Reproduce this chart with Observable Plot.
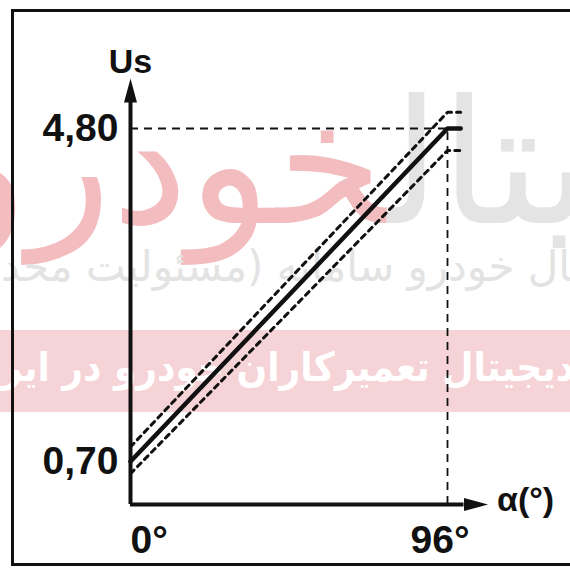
<!DOCTYPE html>
<html>
<head>
<meta charset="utf-8">
<script src="https://cdn.jsdelivr.net/npm/d3@7"></script>
<script src="https://cdn.jsdelivr.net/npm/@observablehq/plot@0.6"></script>
<style>
  html, body { margin: 0; padding: 0; background: #fff; }
  #wrap { position: relative; width: 570px; height: 569px; overflow: hidden; background: #fff; }
  .wm { position: absolute; white-space: nowrap; direction: rtl; font-family: "DejaVu Sans", sans-serif; }
  #wm-big { top: 78px; right: -262px; font-size: 172px; line-height: 1; color: #e4e4e4; }
  #wm-big span { color: #f3bdc0; }
  #wm-line { top: 242px; right: -84px; font-size: 42px; line-height: 1.2; color: #e3e3e3; }
  #wm-band { top: 330px; left: 0; width: 570px; height: 82px; background: #f6d3d6; }
  #wm-band-text { top: 343px; right: -112px; font-size: 40px; line-height: 1.2; color: #fff; font-weight: bold; font-family: "DejaVu Sans Condensed", "DejaVu Sans", sans-serif; }
  #frame { position: absolute; left: 11px; top: 9px; width: 600px; height: 551px; border: 3px solid #111; }
  #chart { position: absolute; left: 0; top: 0; }
</style>
</head>
<body>
<div id="wrap">
  <div class="wm" id="wm-big">دیجیتال<span>خودرو</span></div>
  <div class="wm" id="wm-line">دیجیتال خودرو سامانه (مسئولیت محدود)</div>
  <div class="wm" id="wm-band"></div>
  <div class="wm" id="wm-band-text">مرجع دیجیتال تعمیرکاران خودرو در ایران</div>
  <div id="frame"></div>
  <div id="chart"></div>
</div>
<script>
// ---- data ----
const angleTicks = [0, 96];
const angleLabels = ["0°", "96°"];
const voltTicks = [0.70, 4.80];
const voltLabels = ["0,70", "4,80"];
const nominalAngle = [0, 96, 100];
const nominalVolt = [0.70, 4.80, 4.80];
const upperAngle = [0, 96, 100];
const upperVolt = [0.88, 5.00, 5.00];
const lowerAngle = [0, 96, 100];
const lowerVolt = [0.55, 4.53, 4.53];
const axisOriginVolt = 0.17;   // level at which the angle axis is drawn
const voltAxisEnd = 5.12;      // top of the voltage axis shaft
const angleAxisEnd = 101;      // right end of the angle axis shaft
const yTitle = "Us";
const xTitle = "α(°)";

const nominal = nominalAngle.map((a, i) => ({a, v: nominalVolt[i]}));
const upper = upperAngle.map((a, i) => ({a, v: upperVolt[i]}));
const lower = lowerAngle.map((a, i) => ({a, v: lowerVolt[i]}));
const xTickData = angleTicks.map((a, i) => ({a, label: angleLabels[i]}));
const yTickData = voltTicks.map((v, i) => ({v, label: voltLabels[i]}));

const headUp = { draw(ctx) { ctx.moveTo(0, -24); ctx.lineTo(6.5, 0); ctx.lineTo(-6.5, 0); ctx.closePath(); } };
const headRight = { draw(ctx) { ctx.moveTo(24, 0); ctx.lineTo(0, -6.5); ctx.lineTo(0, 6.5); ctx.closePath(); } };

const font = "'Liberation Sans', Arial, sans-serif";
const ink = "#111";
const labelStyle = { fontSize: 39, fontWeight: "bold", fontFamily: font, fill: ink };

const chart = Plot.plot({
  width: 570,
  height: 569,
  style: { background: "transparent", overflow: "visible" },
  x: { domain: [0, 96], range: [130, 447], axis: null },
  y: { domain: [0.70, 4.80], range: [461, 128], axis: null },
  marks: [
    // reference dashed lines
    Plot.ruleY([voltTicks[1]], { x1: 0, x2: angleTicks[1], stroke: ink, strokeWidth: 1.8, strokeDasharray: "8,6" }),
    Plot.ruleX([angleTicks[1]], { y1: axisOriginVolt, y2: voltTicks[1], stroke: ink, strokeWidth: 1.8, strokeDasharray: "8,6" }),
    // tolerance lines
    Plot.line(upper, { x: "a", y: "v", stroke: ink, strokeWidth: 3, strokeDasharray: "5,5" }),
    Plot.line(lower, { x: "a", y: "v", stroke: ink, strokeWidth: 3, strokeDasharray: "5,5" }),
    // nominal characteristic
    Plot.line(nominal, { x: "a", y: "v", stroke: ink, strokeWidth: 4.5 }),
    // axes
    Plot.ruleX([0], { y1: axisOriginVolt, y2: voltAxisEnd, stroke: ink, strokeWidth: 4 }),
    Plot.ruleY([axisOriginVolt], { x1: 0, x2: angleAxisEnd, stroke: ink, strokeWidth: 4 }),
    Plot.dot([{a: 0, v: voltAxisEnd}], { x: "a", y: "v", symbol: headUp, fill: ink, stroke: "none", r: 5 }),
    Plot.dot([{a: angleAxisEnd, v: axisOriginVolt}], { x: "a", y: "v", symbol: headRight, fill: ink, stroke: "none", r: 5 }),
    // tick labels
    Plot.text(yTickData, { x: 0, y: "v", text: "label", dx: -12, textAnchor: "end", ...labelStyle }),
    Plot.text(xTickData.slice(0, 1), { x: "a", y: axisOriginVolt, text: "label", dy: 36, textAnchor: "start", ...labelStyle }),
    Plot.text(xTickData.slice(1), { x: "a", y: axisOriginVolt, text: "label", dy: 36, dx: 22, textAnchor: "end", ...labelStyle }),
    // titles
    Plot.text([yTitle], { x: 0, y: voltAxisEnd, text: d => d, dy: -40, textAnchor: "middle", fontSize: 34, fontWeight: "bold", fontFamily: font, fill: ink }),
    Plot.text([xTitle], { x: angleAxisEnd, y: axisOriginVolt, text: d => d, dx: 33, dy: -4, textAnchor: "start", fontSize: 34, fontWeight: "bold", fontFamily: font, fill: ink })
  ]
});
document.getElementById("chart").appendChild(chart);
</script>
</body>
</html>
